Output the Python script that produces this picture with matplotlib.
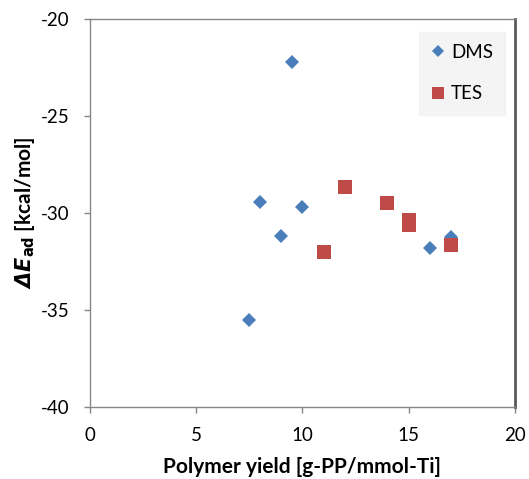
import numpy as np
import matplotlib
matplotlib.use("Agg")
import matplotlib.pyplot as plt

plt.rcParams["font.family"] = ["Lato", "DejaVu Sans"]
plt.rcParams["axes.unicode_minus"] = False

dms_yield = [9.5, 8.0, 9.0, 10.0, 7.5, 16.0, 17.0]
dms_energy = [-22.2, -29.45, -31.2, -29.7, -35.5, -31.8, -31.25]
tes_yield = [11.0, 12.0, 14.0, 15.0, 15.0, 17.0]
tes_energy = [-32.0, -28.65, -29.5, -30.35, -30.6, -31.65]

xticks = [0, 5, 10, 15, 20]
yticks = [-40, -35, -30, -25, -20]

fig = plt.figure(figsize=(5.29, 4.79), dpi=100)
ax = fig.add_axes([0.170, 0.1503, 0.8035, 0.81])

ax.plot(dms_yield, dms_energy, linestyle="none", marker="D", ms=7.2,
        color="#4A7EBB", markeredgewidth=0, label="DMS")
ax.plot(tes_yield, tes_energy, linestyle="none", marker="s", ms=10.5,
        color="#BE4B48", markeredgewidth=0, label="TES")

ax.set_xlim(0, 20)
ax.set_ylim(-40, -20)
ax.set_xticks(xticks)
ax.set_yticks(yticks)
ax.tick_params(direction="out", length=4.5, width=1, colors="#868686",
               labelcolor="black", labelsize=13.5, pad=10)

for side in ["left", "bottom", "top"]:
    ax.spines[side].set_color("#868686")
    ax.spines[side].set_linewidth(1)
ax.spines["right"].set_color("#595959")
ax.spines["right"].set_linewidth(2)

ax.set_xlabel("Polymer yield [g-PP/mmol-Ti]", fontsize=15, fontweight="bold", labelpad=9)
ax.set_ylabel(r"$\mathbfit{\Delta E}_{\mathbf{ad}}$ [kcal/mol]", fontsize=15,
              fontweight="bold", labelpad=3)

leg = ax.legend(loc="upper right", bbox_to_anchor=(0.977, 0.967), frameon=True,
                fancybox=False, fontsize=13.5, handlelength=0.7, handletextpad=0.35,
                labelspacing=1.3, borderpad=0.65, borderaxespad=0, markerscale=0.8)
leg.get_frame().set_facecolor("#F2F2F2")
leg.get_frame().set_edgecolor("#F2F2F2")

plt.savefig("out.png", dpi=100)
